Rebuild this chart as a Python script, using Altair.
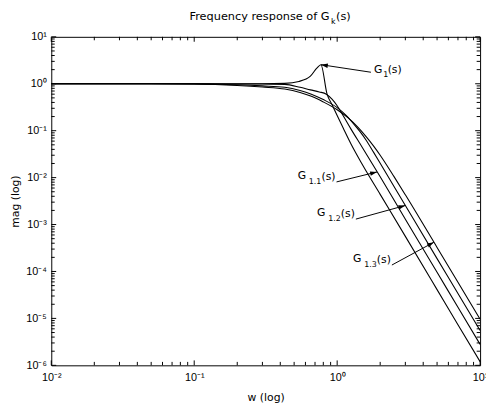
import math
import json
import altair as alt
import pandas as pd

# ---------------- data ----------------
w_g1 = [0.01, 0.05, 0.1, 0.2, 0.3, 0.43, 0.54, 0.65, 0.72, 0.77, 0.85, 0.92, 1.0, 1.1, 1.25, 1.5, 2, 3, 5, 7, 10]
m_g1 = [1.0, 1.0, 1.0, 1.0, 1.0, 1.02, 1.12, 1.45, 2.15, 2.55, 0.60, 0.36, 0.21, 0.115, 0.052, 0.019, 4.4e-3, 5.6e-4, 4.1e-5, 7.3e-6, 1.2e-6]

w_g11 = [0.01, 0.05, 0.1, 0.2, 0.3, 0.43, 0.55, 0.65, 0.75, 0.84, 0.92, 1.0, 1.1, 1.25, 1.5, 2, 3, 5, 7, 10]
m_g11 = [1.0, 1.0, 1.0, 0.99, 0.99, 0.97, 0.84, 0.74, 0.67, 0.60, 0.47, 0.34, 0.21, 0.108, 0.044, 0.0104, 1.3e-3, 9.6e-5, 1.73e-5, 2.8e-6]

w_g12 = [0.01, 0.05, 0.1, 0.14, 0.2, 0.3, 0.43, 0.55, 0.66, 0.8, 1.0, 1.15, 1.3, 1.45, 1.6, 1.8, 2, 3, 5, 7, 10]
m_g12 = [1.0, 1.0, 0.995, 0.98, 0.95, 0.9, 0.84, 0.72, 0.6, 0.46, 0.31, 0.215, 0.142, 0.094, 0.062, 0.0345, 0.0202, 2.55e-3, 1.88e-4, 3.4e-5, 5.5e-6]

w_g13 = [0.01, 0.05, 0.1, 0.14, 0.2, 0.3, 0.43, 0.55, 0.66, 0.8, 1.0, 1.2, 1.4, 1.6, 1.8, 2, 2.5, 3, 5, 7, 10]
m_g13 = [1.0, 1.0, 0.99, 0.965, 0.92, 0.85, 0.77, 0.65, 0.54, 0.41, 0.28, 0.185, 0.118, 0.074, 0.047, 0.030, 0.0105, 4.3e-3, 3.25e-4, 5.9e-5, 9.6e-6]

curve_names = ["G1", "G1.1", "G1.2", "G1.3"]

# annotations (subscript text, arrow tail, arrow tip, label side)
ann_sub = ["1", "1.1", "1.2", "1.3"]
ann_tail_w = [1.723, 0.99, 1.352, 2.415]
ann_tail_m = [1.76, 8.1e-3, 1.306e-3, 1.372e-4]
ann_tip_w = [0.77, 1.9, 3.0, 4.75]
ann_tip_m = [2.55, 0.0132, 2.55e-3, 4.2e-4]
ann_side = ["right", "left", "left", "left"]

xtick_vals = [0.01, 0.1, 1, 10]
xtick_text = ["10\u207b\u00b2", "10\u207b\u00b9", "10\u2070", "10\u00b9"]
ytick_vals = [1e-6, 1e-5, 1e-4, 1e-3, 1e-2, 1e-1, 1, 10]
ytick_text = ["10\u207b\u2076", "10\u207b\u2075", "10\u207b\u2074", "10\u207b\u00b3",
              "10\u207b\u00b2", "10\u207b\u00b9", "10\u2070", "10\u00b9"]

title_main = "Frequency response of G"
title_sub = "k"
title_tail = "(s)"
xtitle = "w (log)"
ytitle = "mag (log)"

# ---------------- layout / style ----------------
W, H = 436, 334
TXT = "DejaVu Sans"
LBL = "Liberation Sans"
MAJ, MIN = 5, 3.5
XMIN, XMAX, YMIN, YMAX = 0.01, 10.0, 1e-6, 10.0
XDEC, YDEC = 3, 7

rows = []
for name, ws, ms in zip(curve_names, [w_g1, w_g11, w_g12, w_g13], [m_g1, m_g11, m_g12, m_g13]):
    for w, m in zip(ws, ms):
        rows.append({"curve": name, "w": w, "m": m})
df = pd.DataFrame(rows)

xscale = alt.Scale(type="log", domain=[XMIN, XMAX], nice=False)
yscale = alt.Scale(type="log", domain=[YMIN, YMAX], nice=False)

xaxis = alt.Axis(
    values=xtick_vals,
    labelExpr=json.dumps(xtick_text, ensure_ascii=False) + "[round(log(datum.value)/LN10)+2]",
    ticks=False, domain=False, grid=False, labelFlush=False, labelOverlap=False,
    labelFont=LBL, labelFontSize=11, labelColor="black", labelPadding=6,
    title=xtitle, titleFont=TXT, titleFontSize=11, titleFontWeight="normal", titleColor="black",
    titleY=33, titleBaseline="middle",
)
yaxis = alt.Axis(
    values=ytick_vals,
    labelExpr=json.dumps(ytick_text, ensure_ascii=False) + "[round(log(datum.value)/LN10)+6]",
    ticks=False, domain=False, grid=False, labelFlush=False, labelOverlap=False,
    labelFont=LBL, labelFontSize=11, labelColor="black", labelPadding=5,
    title=ytitle, titleFont=TXT, titleFontSize=11, titleFontWeight="normal", titleColor="black",
    titleX=-36, titleY=H / 2, titleBaseline="middle",
)

X = lambda f: alt.X(f, type="quantitative", scale=xscale, axis=xaxis)
Y = lambda f: alt.Y(f, type="quantitative", scale=yscale, axis=yaxis)

curves = alt.Chart(df).mark_line(color="black", strokeWidth=1.1, interpolate="monotone").encode(
    x=X("w"), y=Y("m"), detail="curve:N"
)

# ---- inward ticks along all four frame sides (segments in data space) ----
x_major = list(xtick_vals)
x_minor = [k * 10.0 ** e for e in range(-2, 1) for k in range(2, 10)]
y_major = list(ytick_vals)
y_minor = [k * 10.0 ** e for e in range(-6, 1) for k in range(2, 10)]

seg = []
for vals, L in [(x_major, MAJ), (x_minor, MIN)]:
    fy = 10 ** (L * YDEC / H)
    for v in vals:
        seg.append({"w": v, "w2": v, "m": YMIN, "m2": YMIN * fy})
        seg.append({"w": v, "w2": v, "m": YMAX, "m2": YMAX / fy})
for vals, L in [(y_major, MAJ), (y_minor, MIN)]:
    fx = 10 ** (L * XDEC / W)
    for v in vals:
        seg.append({"w": XMIN, "w2": XMIN * fx, "m": v, "m2": v})
        seg.append({"w": XMAX, "w2": XMAX / fx, "m": v, "m2": v})
seg_df = pd.DataFrame(seg)

ticks = alt.Chart(seg_df).mark_rule(color="black", strokeWidth=1).encode(
    x=X("w"), x2="w2", y=Y("m"), y2="m2")

# ---- annotations ----
angles = []
for tw, tm, pw, pm in zip(ann_tail_w, ann_tail_m, ann_tip_w, ann_tip_m):
    dxp = (math.log10(pw) - math.log10(tw)) * W / XDEC
    dyp = -(math.log10(pm) - math.log10(tm)) * H / YDEC
    angles.append(math.degrees(math.atan2(dyp, dxp)) % 360)

ann = pd.DataFrame({"w": ann_tail_w, "m": ann_tail_m, "w2": ann_tip_w, "m2": ann_tip_m,
                    "angle": angles, "sub": ann_sub, "side": ann_side})

arrow_lines = alt.Chart(ann).mark_rule(color="black", strokeWidth=1).encode(
    x=X("w"), y=Y("m"), x2="w2", y2="m2")
arrow_heads = alt.Chart(ann).mark_point(
    shape="M0,0L-1,-0.32L-1,0.32Z", filled=True, color="black", opacity=1, size=196, strokeWidth=0
).encode(x=X("w2"), y=Y("m2"), angle=alt.Angle("angle:Q", scale=None))

label_layers = []
for i in range(len(ann)):
    d = ann.iloc[[i]].copy()
    d["G"] = "G"
    d["S"] = "(s)"
    if ann_side[i] == "right":
        parts = [("G", 3, 1, 11, "left"), ("sub", 12.5, 5, 8, "left"), ("S", 17, 1, 11, "left")]
    else:
        parts = [("G", -31, -3, 11, "right"), ("sub", -15.5, 2, 8, "right"), ("S", -1, -2, 11, "right")]
    for field, dx, dy, fs, al in parts:
        label_layers.append(alt.Chart(d).mark_text(
            font=TXT, fontSize=fs, color="black", align=al, baseline="alphabetic", dx=dx, dy=dy
        ).encode(x=X("w"), y=Y("m"), text=alt.Text(field + ":N")))

# ---- title ----
tdf = pd.DataFrame({"a": [title_main], "b": [title_sub], "c": [title_tail]})
title_layers = [
    alt.Chart(tdf).mark_text(font=TXT, fontSize=11.5, color="black", align="right", baseline="alphabetic")
    .encode(text="a:N", x=alt.value(283), y=alt.value(-17)),
    alt.Chart(tdf).mark_text(font=TXT, fontSize=8, color="black", align="left", baseline="alphabetic")
    .encode(text="b:N", x=alt.value(284.5), y=alt.value(-13.5)),
    alt.Chart(tdf).mark_text(font=TXT, fontSize=11.5, color="black", align="left", baseline="alphabetic")
    .encode(text="c:N", x=alt.value(289.5), y=alt.value(-17)),
]

chart = alt.layer(curves, ticks, arrow_lines, arrow_heads, *label_layers, *title_layers).properties(
    width=W, height=H,
    padding={"left": 44, "top": 26, "right": 6, "bottom": 36},
    autosize=alt.AutoSizeParams(type="none"),
    background="white",
).configure_view(stroke="black", strokeWidth=1)

chart.save("out.html", embed_options={"renderer": "svg", "actions": False})
